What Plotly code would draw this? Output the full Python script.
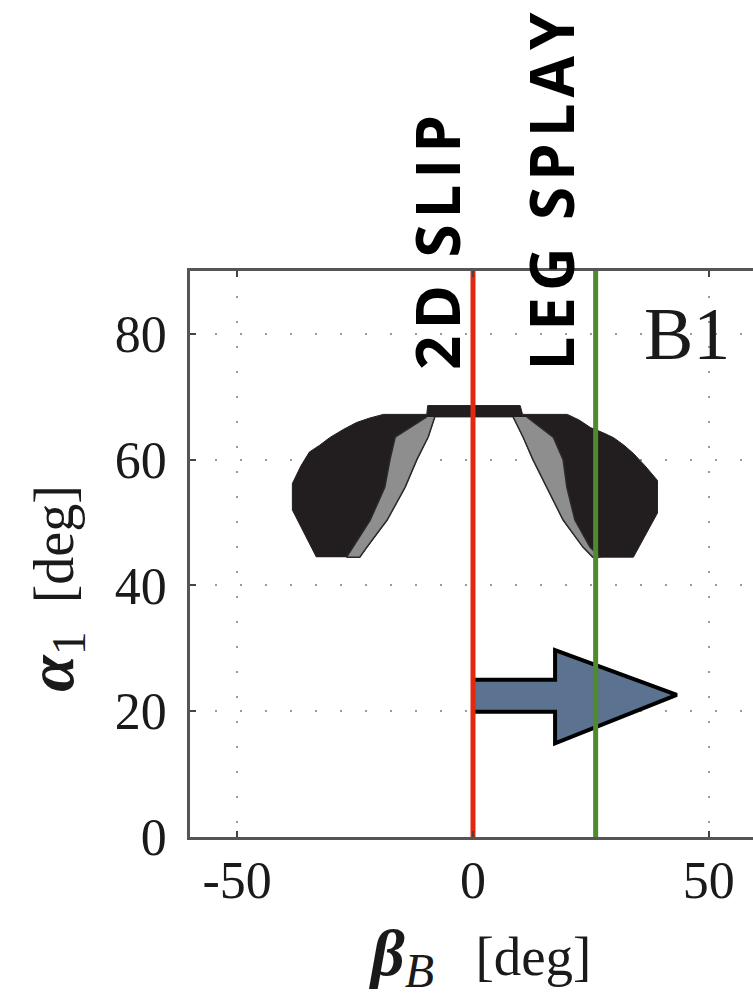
import plotly.graph_objects as go

# ---- data ----
X_RANGE = [-60, 59.36]
Y_RANGE = [0, 90]
X_TICKS = [-50, 0, 50]
Y_TICKS = [0, 20, 40, 60, 80]

# outer black region (both lobes + top bar, with the white interior cut out)
black_beta = [-33.2, -34.7, -38.3, -38.3, -36.5, -34.7, -32.5, -30.4, -27.5, -24.7, -22.0, -19.0,
              -9.8, -9.6, 10.0, 10.5, 20.0, 22.5, 24.9, 27.5, 29.8, 32.0, 34.0, 36.5, 39.1, 39.1,
              35.5, 34.0, 25.4, 23.3, 19.1, 15.7, 12.7, 10.6, 8.5,
              -8.1, -9.5, -11.9, -14.4, -18.2, -22.5, -24.0]
black_alpha = [44.5, 46.7, 52.0, 56.2, 59.0, 61.2, 62.3, 63.5, 64.8, 65.9, 66.6, 67.2,
               67.2, 68.6, 68.6, 67.2, 67.2, 66.3, 65.1, 64.3, 63.5, 62.3, 61.0, 59.0, 56.7, 51.5,
               46.7, 44.5, 44.5, 46.1, 50.4, 55.6, 60.0, 63.6, 66.8,
               66.8, 63.6, 60.0, 55.6, 50.4, 46.1, 44.5]

# gray regions
gray_left_beta = [-9.8, -16.5, -17.6, -18.7, -21.8, -25.4, -26.8,
                  -24.0, -22.5, -18.2, -14.4, -11.9, -9.5, -8.1]
gray_left_alpha = [66.8, 63.6, 60.0, 55.6, 50.4, 46.1, 44.5,
                   44.5, 46.1, 50.4, 55.6, 60.0, 63.6, 66.8]
gray_right_beta = [8.5, 10.6, 12.7, 15.7, 19.1, 23.3, 25.4,
                   27.0, 24.8, 21.6, 19.9, 19.1, 17.0, 11.4]
gray_right_alpha = [66.8, 63.6, 60.0, 55.6, 50.4, 46.1, 44.5,
                    44.5, 46.1, 50.4, 55.6, 60.0, 63.6, 66.8]

# arrow
arrow_beta = [0, 0, 17.4, 17.4, 43.2, 17.4, 17.4, 0]
arrow_alpha = [19.9, 25.0, 25.0, 29.7, 22.6, 14.9, 19.9, 19.9]

# vertical reference lines
line_beta = [0, 26]
line_labels = ["2D SLIP", "LEG SPLAY"]
line_label_beta = [-7.6, 16.5]
line_colors = ["#e2290f", "#4f8a2d"]

panel_label = "B1"

SERIF = "Liberation Serif, Times New Roman, serif"
HAIR = "\u200a"

fig = go.Figure()

fig.add_trace(go.Scatter(x=black_beta, y=black_alpha, fill="toself", mode="lines",
                         fillcolor="#221e1f", line=dict(color="#221e1f", width=1),
                         hoverinfo="skip", showlegend=False))
for gb, ga in [(gray_left_beta, gray_left_alpha), (gray_right_beta, gray_right_alpha)]:
    fig.add_trace(go.Scatter(x=gb, y=ga, fill="toself", mode="lines",
                             fillcolor="#8e8e8e", line=dict(color="#2a2a2a", width=1.5),
                             hoverinfo="skip", showlegend=False))

fig.add_trace(go.Scatter(x=arrow_beta, y=arrow_alpha, fill="toself", mode="lines",
                         fillcolor="#5b7390", line=dict(color="black", width=4),
                         hoverinfo="skip", showlegend=False))

for b, c in zip(line_beta, line_colors):
    fig.add_trace(go.Scatter(x=[b, b], y=Y_RANGE, mode="lines",
                             line=dict(color=c, width=5), hoverinfo="skip",
                             showlegend=False, cliponaxis=False))

for lab, b in zip(line_labels, line_label_beta):
    spaced = HAIR.join(lab)
    fig.add_annotation(x=b, y=73.9, xref="x", yref="y", text=f"<b>{spaced}</b>",
                       textangle=-90, showarrow=False, xanchor="center", yanchor="bottom",
                       font=dict(family="Open Sans, sans-serif", size=60, color="black",
                                 weight=800))

fig.add_annotation(x=45.3, y=80, xref="x", yref="y", text=panel_label, showarrow=False,
                   xanchor="center", yanchor="middle",
                   font=dict(family=SERIF, size=74, color="#1a1a1a"))

# axis titles
x_title = ("<span style='font-size:66px'><b><i>β</i></b></span>"
           "<sub><span style='font-size:48px'><i>B</i></span></sub>   [deg]")
y_title = ("<span style='font-size:66px'><b><i>α</i></b></span>"
           "<sub><span style='font-size:48px'>1</span></sub>  [deg]")
fig.add_annotation(x=1.3, y=-0.212, xref="x", yref="paper",
                   text=x_title, showarrow=False,
                   xanchor="center", yanchor="middle",
                   font=dict(family=SERIF, size=55, color="#1a1a1a"))
fig.add_annotation(x=-0.24, y=0.44, xref="paper", yref="paper",
                   text=y_title, showarrow=False, textangle=-90,
                   xanchor="center", yanchor="middle",
                   font=dict(family=SERIF, size=56, color="#1a1a1a"))

grid = dict(showgrid=True, gridcolor="#9a9a9a", gridwidth=1.5, griddash="2px,23px",
            zeroline=False, ticks="inside", ticklen=6, tickwidth=2, tickcolor="#444",
            showline=True, linecolor="#555", linewidth=2.5,
            tickfont=dict(family=SERIF, size=52, color="#1a1a1a"))

fig.update_xaxes(range=X_RANGE, tickvals=X_TICKS, ticktext=[str(v) for v in X_TICKS],
                 mirror="ticks", ticklabelstandoff=-4, **grid)
fig.update_yaxes(range=Y_RANGE, tickvals=Y_TICKS, ticktext=[str(v) for v in Y_TICKS],
                 mirror=False, ticklabelstandoff=10, **grid)

fig.update_layout(width=753, height=1003, margin=dict(l=190, r=0, t=271, b=166),
                  plot_bgcolor="white", paper_bgcolor="white", showlegend=False)

fig.write_html("out.html")
